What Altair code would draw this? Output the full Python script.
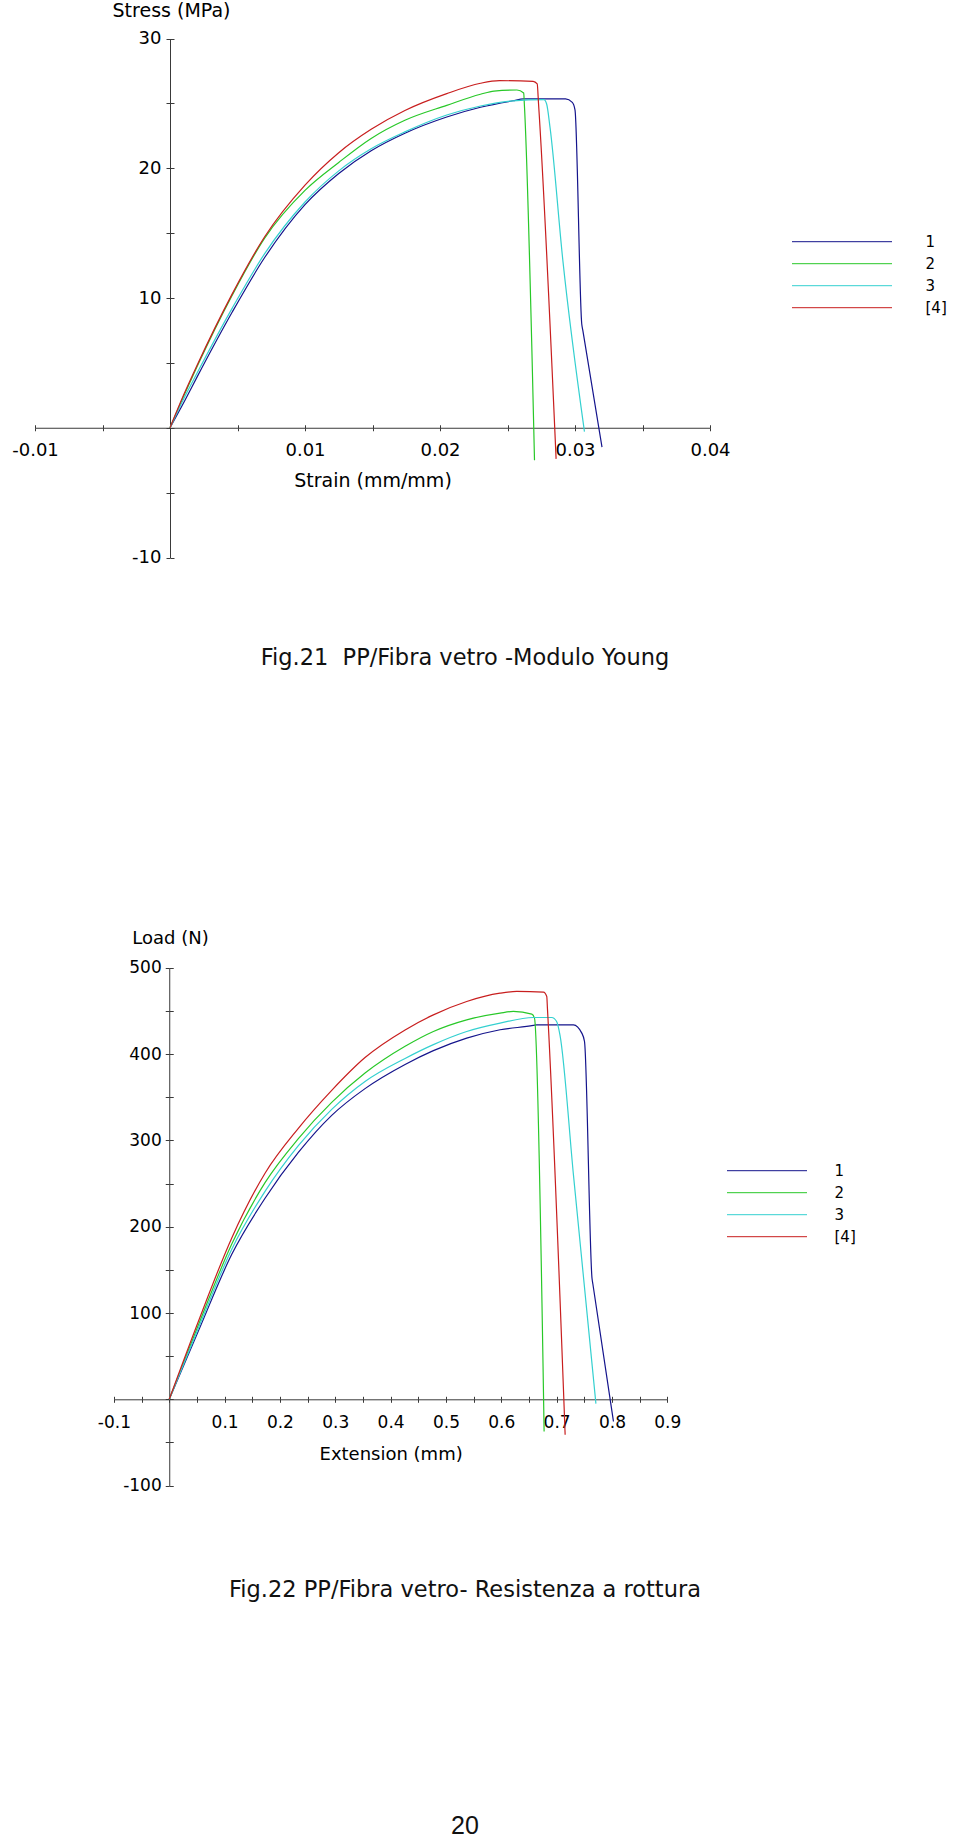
import altair as alt
import pandas as pd

SERIES = ["1", "2", "3", "[4]"]
COLORS = ["#14148c", "#28c828", "#34d0d0", "#c81e1e"]

# ---- Fig.21 : Stress (MPa) vs Strain (mm/mm) ----
STRAIN_1 = [0, 0.0011, 0.002, 0.0046, 0.007, 0.01, 0.0125, 0.0149, 0.0174, 0.0205, 0.023, 0.0254, 0.0262, 0.0293, 0.0298, 0.0300, 0.0305, 0.03058, 0.0320]
STRESS_1 = [0, 2.1, 3.9, 8.9, 13.1, 17.2, 19.6, 21.35, 22.7, 23.95, 24.7, 25.2, 25.34, 25.34, 25.08, 24.5, 8.0, 7.5, -1.5]
STRAIN_2 = [0, 0.001, 0.002, 0.0046, 0.007, 0.01, 0.0125, 0.0149, 0.0174, 0.0205, 0.023, 0.024, 0.0257, 0.0262, 0.02625, 0.0270]
STRESS_2 = [0, 2.4, 4.7, 10.2, 14.6, 18.3, 20.45, 22.3, 23.7, 24.85, 25.7, 25.95, 26.03, 25.8, 24.9, -2.5]
STRAIN_3 = [0, 0.001, 0.002, 0.0046, 0.007, 0.01, 0.0125, 0.0149, 0.0174, 0.0205, 0.023, 0.0254, 0.0277, 0.0279, 0.02815, 0.0291, 0.0307]
STRESS_3 = [0, 2.2, 4.2, 9.2, 13.4, 17.4, 19.8, 21.5, 22.8, 24.1, 24.8, 25.2, 25.29, 24.95, 23.15, 12.9, -0.3]
STRAIN_4 = [0, 0.001, 0.002, 0.0046, 0.007, 0.01, 0.0125, 0.0149, 0.0174, 0.0205, 0.023, 0.0244, 0.0269, 0.0272, 0.0273, 0.0286]
STRESS_4 = [0, 2.5, 4.8, 10.3, 14.7, 18.7, 21.2, 23.0, 24.45, 25.75, 26.55, 26.75, 26.7, 26.5, 24.95, -2.4]

# ---- Fig.22 : Load (N) vs Extension (mm) ----
EXT_1 = [0, 0.0526, 0.113, 0.1731, 0.2333, 0.2936, 0.3538, 0.4262, 0.4773, 0.5375, 0.5978, 0.658, 0.664, 0.7304, 0.7455, 0.7504, 0.764, 0.7655, 0.8027]
LOAD_1 = [0, 79, 168, 233, 286, 329, 360, 388, 404, 418.5, 428.2, 433.2, 433.9, 433.9, 424.3, 414.6, 140, 133.6, -25.7]
EXT_2 = [0, 0.0526, 0.113, 0.1731, 0.2333, 0.2936, 0.3538, 0.4262, 0.4773, 0.5375, 0.5978, 0.6218, 0.6552, 0.66, 0.6774]
LOAD_2 = [0, 86, 180, 251, 302, 344, 378, 409, 426.2, 439.7, 447.5, 449.4, 446.3, 441.7, -37.3]
EXT_3 = [0, 0.0526, 0.113, 0.1731, 0.2333, 0.2936, 0.3538, 0.4262, 0.4773, 0.5375, 0.5978, 0.658, 0.6913, 0.70, 0.706, 0.7304, 0.771]
LOAD_3 = [0, 82.4, 174, 241, 294, 336, 368.3, 395, 411, 426.2, 435.9, 442.4, 442.4, 437.8, 422.4, 260.1, -5]
EXT_4 = [0, 0.0526, 0.113, 0.1731, 0.2333, 0.2936, 0.3538, 0.4262, 0.4773, 0.5375, 0.5978, 0.6279, 0.6762, 0.6822, 0.6834, 0.7154]
LOAD_4 = [0, 90.2, 187, 262, 314, 358, 396, 428, 445.5, 461, 470.6, 472.6, 471.8, 466.7, 453, -41.1]

X1_TICKS = [-0.01, -0.005, 0, 0.005, 0.01, 0.015, 0.02, 0.025, 0.03, 0.035, 0.04]
Y1_TICKS = [-10, -5, 0, 5, 10, 15, 20, 25, 30]
X2_TICKS = [-0.1, -0.05, 0, 0.05, 0.1, 0.15, 0.2, 0.25, 0.3, 0.35, 0.4, 0.45, 0.5,
            0.55, 0.6, 0.65, 0.7, 0.75, 0.8, 0.85, 0.9]
Y2_TICKS = [-100, -50, 0, 50, 100, 150, 200, 250, 300, 350, 400, 450, 500]

CAPTIONS = ["Fig.21\u00a0 PP/Fibra vetro -Modulo Young",
            "Fig.22 PP/Fibra vetro- Resistenza a rottura"]
PAGE_NUMBER = "20"

W, H = 960, 1838
AX = "#3a3a3a"
FONT = "DejaVu Sans"


def frame(xs_list, ys_list, xname, yname):
    rows = []
    for s, xs, ys in zip(SERIES, xs_list, ys_list):
        for i, (a, b) in enumerate(zip(xs, ys)):
            rows.append({"series": s, "i": i, xname: a, yname: b})
    return pd.DataFrame(rows)


def panel(df, xf, yf, xtitle, ytitle, xdom, ydom, xrange, yrange, xticks, yticks,
          xmult, xfmt, ymult, lab_size, title_size, xlab_pad, ylab_pad,
          xtitle_dy, ytitle_x, ytitle_y, leg):
    x0 = xrange[0] + (0 - xdom[0]) / (xdom[1] - xdom[0]) * (xrange[1] - xrange[0])
    y0 = yrange[0] + (0 - ydom[0]) / (ydom[1] - ydom[0]) * (yrange[1] - yrange[0])
    xlab = (f"abs(datum.value) < 1e-9 || abs(datum.value*{xmult} - round(datum.value*{xmult})) > 1e-6"
            f" ? '' : (datum.value < 0 ? '-' : '') + format(abs(datum.value), '{xfmt}')")
    ylab = (f"datum.value == 0 || datum.value % {ymult} != 0 ? ''"
            f" : (datum.value < 0 ? '-' : '') + format(abs(datum.value), 'd')")
    main_x = alt.Axis(orient="bottom", offset=y0 - H, values=xticks, labelExpr=xlab,
                      labelFlush=False, labelOverlap=False, tickSize=3, grid=False,
                      labelPadding=xlab_pad, labelBaseline="middle", labelFont=FONT,
                      labelFontSize=lab_size, labelColor="black", domainColor=AX,
                      tickColor=AX, title=xtitle, titleFont=FONT, titleFontSize=title_size,
                      titleFontWeight="normal", titleColor="black", titleBaseline="middle",
                      titleAlign="center", titleX=(xrange[0] + xrange[1]) / 2, titleY=xtitle_dy)
    main_y = alt.Axis(orient="left", offset=-x0, values=yticks, labelExpr=ylab,
                      labelOverlap=False, labelFlush=False, tickSize=4, grid=False,
                      labelPadding=ylab_pad, labelAlign="right", labelBaseline="middle",
                      labelFont=FONT, labelFontSize=lab_size, labelColor="black",
                      domainColor=AX, tickColor=AX, title=ytitle, titleFont=FONT,
                      titleFontSize=title_size, titleFontWeight="normal", titleColor="black",
                      titleAngle=0, titleAlign="center", titleBaseline="middle",
                      titleX=ytitle_x - x0, titleY=ytitle_y)
    help_x = alt.Axis(orient="top", offset=-y0, values=xticks, labels=False, domain=False,
                      tickSize=3, tickColor=AX, grid=False, title=None)
    help_y = alt.Axis(orient="right", offset=x0 - W, values=yticks, labels=False, domain=False,
                      tickSize=4, tickColor=AX, grid=False, title=None)
    xs = alt.Scale(domain=xdom, range=xrange, nice=False, zero=False)
    ys = alt.Scale(domain=ydom, range=yrange, nice=False, zero=False)
    lines = alt.Chart(df).mark_line(strokeWidth=1.2, interpolate="monotone").encode(
        x=alt.X(f"{xf}:Q", scale=xs, axis=main_x),
        y=alt.Y(f"{yf}:Q", scale=ys, axis=main_y),
        color=alt.Color("series:N", scale=alt.Scale(domain=SERIES, range=COLORS),
                        legend=alt.Legend(orient="none", legendX=leg["x"], legendY=leg["y"],
                                          title=None, symbolType="stroke",
                                          symbolSize=leg["len"] ** 2, symbolStrokeWidth=1,
                                          clipHeight=15, rowPadding=6,
                                          labelOffset=leg["off"], labelFont=FONT,
                                          labelFontSize=15, labelColor="black", padding=0)),
        order=alt.Order("i:Q"),
    )
    helper = alt.Chart(df).mark_line(opacity=0).encode(
        x=alt.X(f"{xf}:Q", axis=help_x),
        y=alt.Y(f"{yf}:Q", axis=help_y),
        detail="series:N",
        order=alt.Order("i:Q"),
    )
    return alt.layer(lines, helper)


df1 = frame([STRAIN_1, STRAIN_2, STRAIN_3, STRAIN_4],
            [STRESS_1, STRESS_2, STRESS_3, STRESS_4], "strain", "stress")
df2 = frame([EXT_1, EXT_2, EXT_3, EXT_4],
            [LOAD_1, LOAD_2, LOAD_3, LOAD_4], "extension", "load")

p1 = panel(df1, "strain", "stress", "Strain (mm/mm)", "Stress (MPa)",
           [-0.01, 0.04], [-10, 30], [35, 710], [557.5, 38.5], X1_TICKS, Y1_TICKS,
           100, ".2f", 10, 18, 19, 20, 5, 53, 171, 10,
           {"x": 791.5, "y": 234.2, "len": 100, "off": 33})
p2 = panel(df2, "extension", "load", "Extension (mm)", "Load (N)",
           [-0.1, 0.9], [-100, 500], [113.9, 667.3], [1485.6, 967.8], X2_TICKS, Y2_TICKS,
           10, ".1f", 100, 17, 18, 20, 4, 55, 170, 938,
           {"x": 726.5, "y": 1163.2, "len": 80, "off": 27})


def label(text, x, y, size, font):
    return alt.Chart(alt.Data(values=[{"t": text}])).mark_text(
        font=font, fontSize=size, align="center", baseline="alphabetic", color="#111111"
    ).encode(x=alt.value(x), y=alt.value(y), text="t:N")


cap1 = label(CAPTIONS[0], 465, 665, 22.5, FONT)
cap2 = label(CAPTIONS[1], 465, 1597, 22.5, FONT)
page = label(PAGE_NUMBER, 465, 1834, 25, "Liberation Sans")

chart = alt.layer(p1, p2, cap1, cap2, page).resolve_scale(
    x="independent", y="independent", color="independent"
).properties(
    width=W, height=H, autosize=alt.AutoSizeParams(type="none"), padding=0,
    background="white"
).configure_view(stroke=None)

chart.save("out.html", embed_options={"renderer": "svg", "actions": False})
